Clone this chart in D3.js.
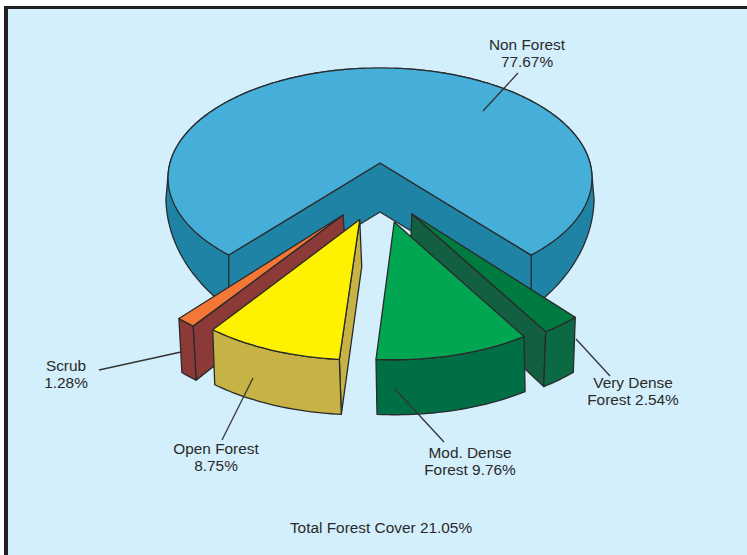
<!DOCTYPE html>
<html><head><meta charset="utf-8">
<style>html,body{margin:0;padding:0;background:#fff}svg{display:block}text{font-family:"Liberation Sans",Arial,sans-serif;font-size:15.4px;fill:#2a2a2a;text-anchor:middle}</style>
<script src="https://cdn.jsdelivr.net/npm/d3@7/dist/d3.min.js"></script>
</head><body><svg id="c" width="747" height="555"></svg>
<script>
const categories = ["Non Forest","Very Dense Forest","Mod. Dense Forest","Open Forest","Scrub"];
const values = [77.67, 2.54, 9.76, 8.75, 1.28];
const topColors = ["#45aed9","#007b40","#00a651","#fff200","#f47735"];
const wallColors = ["#1f83a6","#0b6a44","#006f45","#c6b245","#8c3a38"];
const faceColors = ["#1f83a6","#135f42","#006f45","#c6b245","#8c3a38"];
const visibleFace = ["both","endAngle","","startAngle","startAngle"];
const explodeX = [0, .143, .055, -.085, -.165];
const explodeY = [0, .444, .475, .475, .452];
const radius = [1, .985, .985, .985, .985];
const apexInset = [0, 0, .035, .015, 0];
const depth0 = [49, 47, 47, 47, 47];
const depth1 = [49, 55, 55, 55, 54];
const baseShift = [0, -2, 1, 2, 3];
const drawOrder = [0, 1, 2, 4, 3];
const labels = [
  {lines:["Non Forest","77.67%"], x:527, y:50, from:[483,111], to:[518,73]},
  {lines:["Very Dense","Forest 2.54%"], x:633, y:388, from:[576,339], to:[610,376]},
  {lines:["Mod. Dense","Forest 9.76%"], x:470, y:458, from:[395,389], to:[444,442]},
  {lines:["Open Forest","8.75%"], x:216, y:454, from:[253,378], to:[222,440]},
  {lines:["Scrub","1.28%"], x:66, y:371, from:[181,352], to:[99,370]}
];
const title = "Total Forest Cover 21.05%";

const svg = d3.select("#c");
svg.append("rect").attr("x",4).attr("y",6).attr("width",743).attr("height",549).attr("fill","#231f20");
svg.append("rect").attr("x",8).attr("y",9).attr("width",739).attr("height",546).attr("fill","#d3effc");

// perspective projection of the tilted pie plane
const cx=380, cy=163, A=210, B=108, k=.136;
function proj(X,Y,h,sh){ const s=1/(1-k*Y); return [cx+A*X*s+(sh||0), cy+B*Y*s+h]; }

const pie = d3.pie().sort(null).startAngle(-139.8*Math.PI/180).endAngle(220.2*Math.PI/180);
const arcs = pie(values);
const line = d3.line();
const STROKE="#2a2a2a", SW=1.3;

function pt(i,a,r,h){
  const X=explodeX[i]+r*Math.sin(a), Y=explodeY[i]-r*Math.cos(a);
  return proj(X,Y,h,h?baseShift[i]:0);
}
function arcPts(i,a0,a1,h){
  const n=Math.max(2,Math.ceil(Math.abs(a1-a0)/.02)), r=radius[i];
  return d3.range(n+1).map(j=>pt(i,a0+(a1-a0)*j/n,r,h));
}
function poly(p,fill,g){ g.append("path").attr("d",line(p)+"Z").attr("fill",fill).attr("stroke",STROKE).attr("stroke-width",SW).attr("stroke-linejoin","round"); }

drawOrder.forEach(i=>{
  const d=arcs[i], g=svg.append("g"), r=radius[i], h0=depth0[i], h1=depth1[i];
  const mid=(d.startAngle+d.endAngle)/2;
  const apex=pt(i,mid,apexInset[i],0), apexB=pt(i,mid,apexInset[i],h0);
  if(i===0){
    // outer wall: hull of the rim and a wider, deeper base curve on each side
    const base=p=>[cx+(p[0]-cx)*1.01, 197+(p[1]-178)*157/110];
    [[d.startAngle,-Math.PI/30],[d.endAngle,Math.PI/30]].forEach(([a0,a1])=>{
      const topP=arcPts(i,a0,a1,0), botP=topP.filter(p=>p[1]>=178).map(base);
      poly(d3.polygonHull(topP.concat(botP)),wallColors[i],g);
    });
    // inner wedge walls as one surface, with a vertical seam only at the rim
    poly([apex,pt(i,d.startAngle,r,0),pt(i,d.startAngle,r,h1),apexB,pt(i,d.endAngle,r,h1),pt(i,d.endAngle,r,0)],faceColors[i],g);
  } else {
    if(visibleFace[i]){
      const a=d[visibleFace[i]];
      poly([apex,pt(i,a,r,0),pt(i,a,r,h1),apexB],faceColors[i],g);
    }
    poly(arcPts(i,d.startAngle,d.endAngle,0).concat(arcPts(i,d.endAngle,d.startAngle,h1)),wallColors[i],g);
  }
  poly([apex].concat(arcPts(i,d.startAngle,d.endAngle,0)),topColors[i],g);
});

labels.forEach(l=>{
  svg.append("path").attr("d",line([l.from,l.to])).attr("stroke","#333").attr("stroke-width",1.3).attr("fill","none");
  l.lines.forEach((t,j)=>svg.append("text").attr("x",l.x).attr("y",l.y+j*17).text(t));
});
svg.append("text").attr("x",381).attr("y",533).text(title);
</script></body></html>
